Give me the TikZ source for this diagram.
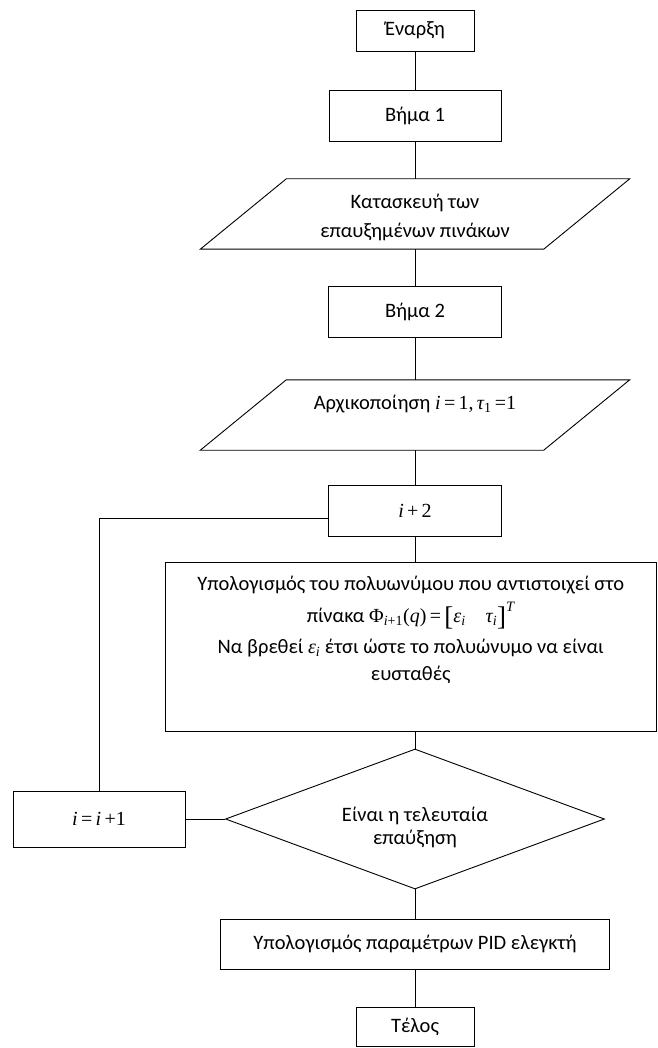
\documentclass[tikz,border=0pt]{standalone}
\usepackage{fontspec}
\setmainfont{Carlito}
\newfontfamily\tms{Liberation Serif}
\usetikzlibrary{shapes.geometric,calc}
\newcommand\mi[1]{{\tms\itshape\fontsize{20}{27}\selectfont #1}}
\newcommand\mr[1]{{\tms\fontsize{20}{27}\selectfont #1}}
\newcommand\bigbr[1]{\raisebox{-3pt}{\tms\fontsize{27}{27}\selectfont #1}}
\tikzset{
  line/.style={line width=0.9pt, draw=black},
  box/.style={draw=black, line width=0.9pt, inner sep=0pt, align=center, font=\fontsize{20.5}{24}\selectfont},
  slanted/.style={inner sep=0pt, align=center, font=\fontsize{20.5}{29}\selectfont},
}
\begin{document}
\begin{tikzpicture}[x=1pt,y=-1pt]
\useasboundingbox (0,0) rectangle (657,1048);
\node[box, minimum width=118pt, minimum height=41pt] (start) at (415,30.5) {Έναρξη};
\node[box, minimum width=172pt, minimum height=51pt] (s1) at (415,115.5) {Βήμα 1};
\node[slanted, minimum width=343pt, minimum height=70pt] (p1) at (415,214) {\raisebox{-3pt}[\height][\depth]{\begin{tabular}{@{}c@{}}Κατασκευή των\\επαυξημένων πινάκων\end{tabular}}};
\draw[line] ($(p1.north west)+(43,0)$) -- ($(p1.north east)+(43,0)$) -- ($(p1.south east)+(-43,0)$) -- ($(p1.south west)+(-43,0)$) -- cycle;
\node[box, minimum width=173pt, minimum height=51pt] (s2) at (415,311.5) {Βήμα 2};
\node[slanted, minimum width=343pt, minimum height=70pt] (p2) at (415,415) {\raisebox{11pt}[\height][\depth]{Αρχικοποίηση \mi{i}\mr{\,=\,1,\,}\mi{τ}\mr{\textsubscript{1}\,=1}}};
\draw[line] ($(p2.north west)+(43,0)$) -- ($(p2.north east)+(43,0)$) -- ($(p2.south east)+(-43,0)$) -- ($(p2.south west)+(-43,0)$) -- cycle;
\node[box, minimum width=173pt, minimum height=51pt] (ip2) at (415,510.5) {\mi{i}\mr{\,+\,2}};
\node[box] (big) at (410.75,646.5) {\parbox[c][169pt][t]{491.5pt}{\centering\fontsize{20.5}{28}\selectfont
\vspace{14pt}Υπολογισμός του πολυωνύμου που αντιστοιχεί στο\\[4pt]
πίνακα \mr{Φ\textsubscript{\itshape i\upshape +1}(}\mi{q}\mr{)\,=\,}\bigbr{[}\mi{ε}\mr{\textsubscript{\itshape i}\quad}\mi{τ}\mr{\textsubscript{\itshape i}}\bigbr{]}\raisebox{3pt}{\textsuperscript{\tms\itshape T}}\par
\vspace{3pt}Να βρεθεί \mi{ε}\mr{\textsubscript{\itshape i}} έτσι ώστε το πολυώνυμο να είναι\\[-1pt]
ευσταθές\par}};
\node[draw=black, line width=0.9pt, diamond, inner sep=0pt, aspect=2.7, minimum width=379pt, minimum height=140pt, align=center, font=\fontsize{20.5}{23}\selectfont] (dia) at (415,819) {\raisebox{-9pt}[\height][\depth]{\begin{tabular}{@{}c@{}}Είναι η τελευταία\\επαύξηση\end{tabular}}};
\node[box, minimum width=172pt, minimum height=56pt] (inc) at (99,819) {\mi{i}\mr{\,=\,}\mi{i}\mr{\,+1}};
\node[box, minimum width=389pt, minimum height=50pt] (pid) at (415,944) {Υπολογισμός παραμέτρων PID ελεγκτή};
\node[box, minimum width=118pt, minimum height=39pt] (end) at (415,1026.5) {Τέλος};
\draw[line] (start.south) -- (s1.north);
\draw[line] (s1.south) -- (p1.north);
\draw[line] (p1.south) -- (s2.north);
\draw[line] (s2.south) -- (p2.north);
\draw[line] (p2.south) -- (ip2.north);
\draw[line] (ip2.south) -- (ip2.south |- big.north);
\draw[line] (big.south -| dia.north) -- (dia.north);
\draw[line] (dia.south) -- (pid.north);
\draw[line] (pid.south) -- (end.north);
\draw[line] (dia.west) -- (inc.east);
\draw[line] ([yshift=-8pt]ip2.west) -| (inc.north);
\end{tikzpicture}
\end{document}
